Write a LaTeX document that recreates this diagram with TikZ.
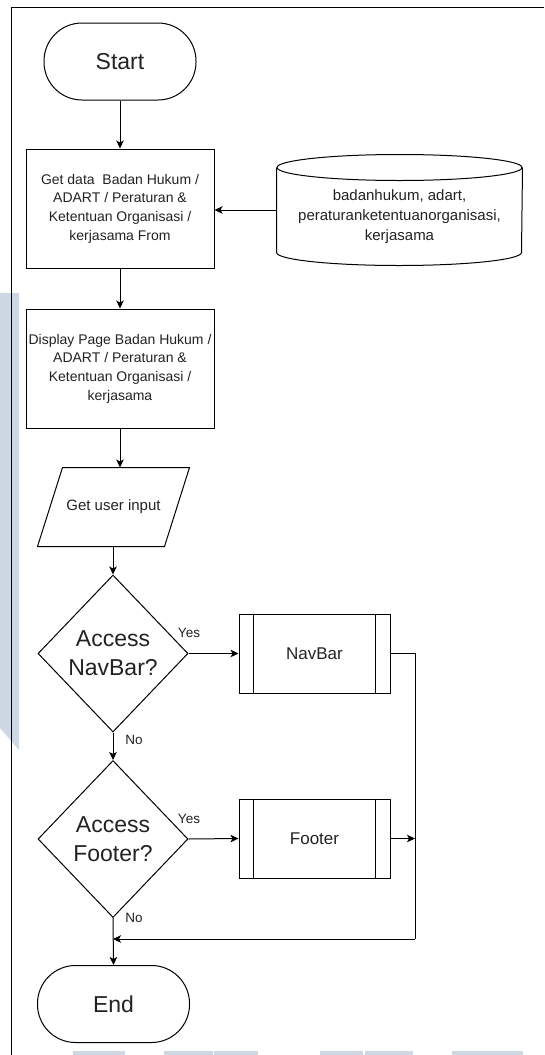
\documentclass[tikz,border=0pt]{standalone}
\usepackage{fontspec}
\setmainfont{Liberation Sans}
\usetikzlibrary{arrows.meta,shapes.geometric}
\definecolor{wm}{RGB}{205,216,227}
\definecolor{txt}{RGB}{34,34,34}
\begin{document}
\begin{tikzpicture}[x=1pt,y=-1pt,line width=1pt,
  arr/.style={-{Stealth[length=8pt,width=7.5pt,inset=2pt]}},
  term/.style={draw, rounded corners=38pt, minimum width=152pt, minimum height=77pt, inner sep=0pt, text=txt, font=\fontsize{23}{28}\selectfont},
  procbox/.style={draw, minimum width=188pt, minimum height=119pt, inner sep=0pt, align=center, text=txt, font=\fontsize{14}{18.7}\selectfont},
  subproc/.style={draw, minimum width=151pt, minimum height=79pt, inner sep=0pt, text=txt, font=\fontsize{17}{20}\selectfont},
  decision/.style={draw, diamond, aspect=0.955, minimum width=150pt, minimum height=157pt, inner sep=0pt},
  dtext/.style={align=center, text=txt, font=\fontsize{23}{29}\selectfont},
  lbl/.style={text=txt, inner sep=0pt, font=\fontsize{13.5}{16}\selectfont},
  plain/.style={inner sep=0pt}
]
\useasboundingbox (0,0) rectangle (544,1055);
% watermark shapes
\fill[wm] (0,293) -- (19,293) -- (19,750) -- (0,728) -- cycle;
\foreach \a/\b in {73/125,164/213,214/258,320/363,365/413,452/523}{
  \fill[wm] (\a,1051) rectangle (\b,1055);
}
% frame
\draw (544,7) -- (11,7) -- (11,1055);

% nodes
\node[term] (start) at (120,61.5) {Start};
\node[procbox] (getdata) at (120,208.5) {Get data\ \ Badan Hukum /\\ADART / Peraturan \&\\Ketentuan Organisasi /\\kerjasama From};
\node[plain, minimum width=245pt, minimum height=110pt] (db) at (399.5,210) {};
\draw (db.north) ++(0,13) ellipse [x radius=122.5pt, y radius=13pt];
\draw ([yshift=-13pt]db.north west) -- ([yshift=13pt]db.south west)
  arc[start angle=180, end angle=360, x radius=122.5pt, y radius=13pt]
  -- ([yshift=-13pt]db.north east);
\node[align=center, text=txt, font=\fontsize{15}{20}\selectfont] (dbtext) at (399.5,217) {badanhukum, adart,\\peraturanketentuanorganisasi,\\kerjasama};
\node[procbox] (display) at (120,368.5) {Display Page Badan Hukum /\\ADART / Peraturan \&\\Ketentuan Organisasi /\\kerjasama};
\node[plain, minimum width=151pt, minimum height=78pt, text=txt, font=\fontsize{15}{18}\selectfont] (inp) at (113.5,507) {Get user input};
\draw ([xshift=25pt]inp.north west) -- (inp.north east) -- ([xshift=-25pt]inp.south east) -- (inp.south west) -- cycle;
\node[decision] (d1) at (113,653.5) {};
\node[dtext] (d1t) at (d1.center) {Access\\NavBar?};
\node[subproc] (nav) at (314.5,653.5) {NavBar};
\draw ([xshift=15pt]nav.north west) -- ([xshift=15pt]nav.south west);
\draw ([xshift=-15pt]nav.north east) -- ([xshift=-15pt]nav.south east);
\node[decision] (d2) at (113,839) {};
\node[dtext] (d2t) at (d2.center) {Access\\Footer?};
\node[subproc] (foot) at (314.5,838.5) {Footer};
\draw ([xshift=15pt]foot.north west) -- ([xshift=15pt]foot.south west);
\draw ([xshift=-15pt]foot.north east) -- ([xshift=-15pt]foot.south east);
\node[term] (end) at (113.5,1004) {End};

\coordinate (jtop) at (415,653.5);
\coordinate (jbot) at (415,939);

% connectors
\draw[arr] (start) -- (getdata);
\draw[arr] (db.west) -- (db.west -| getdata.east);
\draw[arr] (getdata) -- (display);
\draw[arr] (display.south) -- (display.south |- inp.north);
\draw[arr] (inp.south -| d1.north) -- (d1.north);
\draw[arr] (d1.east) -- (nav.west);
\draw[arr] (d1.south) -- (d2.north);
\draw[arr] (d2.east) -- (foot.west);
\draw[arr] (d2.south) -- (end.north);
\draw (nav.east) -- (jtop) -- (jbot);
\draw[arr] (foot.east) -- (foot.east -| jtop);
\draw[arr] (jbot) -- (jbot -| d2.south);

% labels
\node[lbl] (y1) at (189,633) {Yes};
\node[lbl] (n1) at (134,740) {No};
\node[lbl] (y2) at (189,819) {Yes};
\node[lbl] (n2) at (134,918) {No};
\end{tikzpicture}
\end{document}
